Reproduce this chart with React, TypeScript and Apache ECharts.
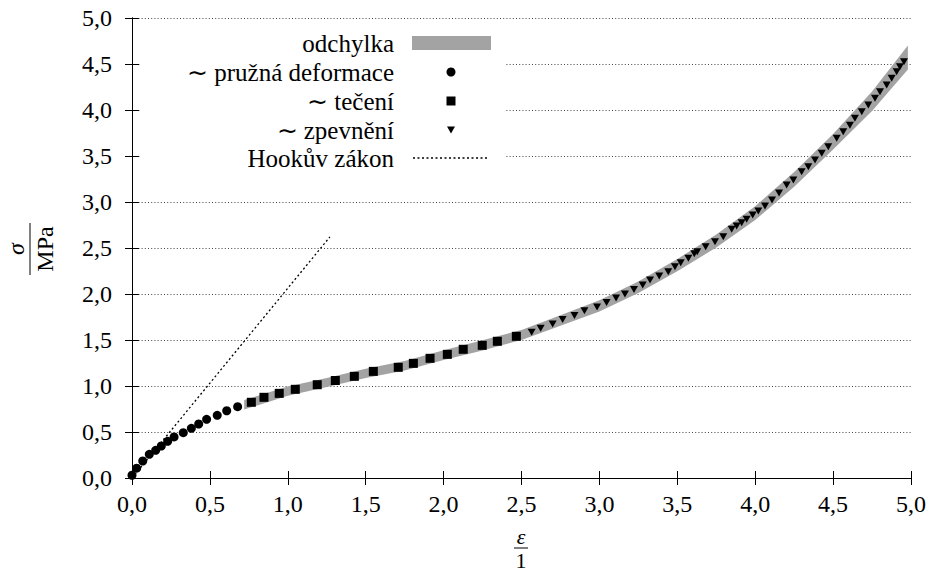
import React, { useEffect, useRef } from "react";
import * as echarts from "echarts";

// ---- data ----
const circleX = [0.0, 0.03, 0.069, 0.111, 0.152, 0.188, 0.229, 0.27, 0.329, 0.381, 0.428, 0.479, 0.547, 0.608, 0.678];
const circleY = [0.03, 0.107, 0.185, 0.257, 0.301, 0.348, 0.399, 0.446, 0.493, 0.54, 0.587, 0.638, 0.681, 0.731, 0.775];

const squareX = [0.766, 0.847, 0.945, 1.048, 1.189, 1.305, 1.427, 1.549, 1.709, 1.806, 1.913, 2.024, 2.126, 2.248, 2.345, 2.467];
const squareY = [0.823, 0.877, 0.92, 0.964, 1.014, 1.06, 1.105, 1.159, 1.203, 1.246, 1.301, 1.344, 1.399, 1.442, 1.486, 1.54];

const triX = [
  2.565, 2.623, 2.7, 2.764, 2.84, 2.904, 2.985, 3.046, 3.107, 3.164, 3.222, 3.278, 3.325, 3.384, 3.442, 3.485,
  3.522, 3.571, 3.609, 3.628, 3.682, 3.742, 3.795, 3.849, 3.881, 3.913, 3.945, 3.984, 4.02, 4.063, 4.108, 4.153,
  4.202, 4.245, 4.298, 4.341, 4.384, 4.427, 4.469, 4.523, 4.565, 4.608, 4.64, 4.684, 4.726, 4.769, 4.801, 4.844,
  4.876, 4.908, 4.929, 4.955,
];
const triY = [
  1.584, 1.627, 1.674, 1.723, 1.766, 1.818, 1.859, 1.908, 1.957, 2.0, 2.049, 2.098, 2.152, 2.196, 2.242, 2.297,
  2.34, 2.388, 2.438, 2.46, 2.514, 2.568, 2.623, 2.703, 2.739, 2.775, 2.812, 2.859, 2.903, 2.957, 3.022, 3.098,
  3.185, 3.239, 3.329, 3.384, 3.457, 3.529, 3.601, 3.692, 3.764, 3.834, 3.909, 3.981, 4.054, 4.127, 4.199, 4.272,
  4.344, 4.416, 4.471, 4.525,
];

const bandX = [0.72, 1.0, 1.25, 1.5, 1.75, 2.0, 2.25, 2.5, 2.75, 3.0, 3.25, 3.5, 3.75, 4.0, 4.25, 4.5, 4.75, 4.98];
const bandLow = [0.745, 0.893, 0.988, 1.087, 1.169, 1.282, 1.387, 1.5, 1.655, 1.81, 2.01, 2.248, 2.505, 2.803, 3.165, 3.57, 3.99, 4.44];
const bandHigh = [0.847, 0.995, 1.088, 1.187, 1.273, 1.388, 1.497, 1.61, 1.769, 1.932, 2.136, 2.38, 2.647, 2.955, 3.325, 3.738, 4.2, 4.7];

const hookeX = [0, 1.27];
const hookeY = [0, 2.62];

const legendNames = ["odchylka", "∼ pružná deformace", "∼ tečení", "∼ zpevnění", "Hookův zákon"];

const FONT = "'Liberation Serif', 'Times New Roman', serif";
const FS = 24;
const LFS = 25;

const fmt = (v: number) => v.toFixed(1).replace(".", ",");

export default function App() {
  const ref = useRef<HTMLDivElement>(null);
  useEffect(() => {
    if (!ref.current) return;
    const chart = echarts.init(ref.current, null, { renderer: "svg" });
    const pair = (xs: number[], ys: number[]) => xs.map((x, i) => [x, ys[i]]);

    const axisCommon = {
      type: "value" as const,
      min: 0,
      max: 5,
      interval: 0.5,
      axisLine: { show: true, lineStyle: { color: "#000", width: 1 } },
      axisTick: { show: true, inside: true, length: 7, lineStyle: { color: "#000", width: 1 } },
    };

    const legendRows = [43, 72, 101, 130, 158];
    const legendTextX = 394;
    const txt = (extra: any) => ({ fill: "#000", fontFamily: FONT, fontSize: LFS, ...extra });

    chart.setOption({
      animation: false,
      backgroundColor: "#fff",
      textStyle: { fontFamily: FONT },
      grid: { left: 132, right: 18, top: 18, bottom: 94, containLabel: false },
      xAxis: [
        {
          ...axisCommon,
          position: "bottom",
          axisLabel: { formatter: fmt, color: "#000", fontFamily: FONT, fontSize: FS, margin: 14 },
          splitLine: { show: false },
        },
        {
          ...axisCommon,
          position: "top",
          axisLabel: { show: false },
          splitLine: { show: false },
        },
      ],
      yAxis: [
        {
          ...axisCommon,
          position: "left",
          axisLabel: { formatter: fmt, color: "#000", fontFamily: FONT, fontSize: FS, margin: 20 },
          splitLine: { show: true, lineStyle: { color: "#444", width: 1, type: [1, 2.2] } },
        },
        {
          ...axisCommon,
          position: "right",
          axisLabel: { show: false },
          splitLine: { show: false },
        },
      ],
      series: [
        {
          name: legendNames[0],
          type: "custom",
          data: [[bandX[0], bandLow[0]]],
          renderItem: (params: any, api: any) => {
            if (params.dataIndex !== 0) return null;
            const pts: number[][] = [];
            for (let i = 0; i < bandX.length; i++) pts.push(api.coord([bandX[i], bandHigh[i]]));
            for (let i = bandX.length - 1; i >= 0; i--) pts.push(api.coord([bandX[i], bandLow[i]]));
            return {
              type: "polygon",
              shape: { points: pts },
              style: { fill: "#a3a3a3", stroke: "none" },
            };
          },
          z: 2,
        },
        {
          name: legendNames[4],
          type: "line",
          data: pair(hookeX, hookeY),
          showSymbol: false,
          lineStyle: { color: "#000", width: 1.3, type: [2, 2.5] },
          z: 3,
        },
        {
          name: legendNames[1],
          type: "scatter",
          data: pair(circleX, circleY),
          symbol: "circle",
          symbolSize: 9,
          itemStyle: { color: "#000", opacity: 1 },
          z: 4,
        },
        {
          name: legendNames[2],
          type: "scatter",
          data: pair(squareX, squareY),
          symbol: "rect",
          symbolSize: 9,
          itemStyle: { color: "#000", opacity: 1 },
          z: 4,
        },
        {
          name: legendNames[3],
          type: "scatter",
          data: pair(triX, triY),
          symbol: "triangle",
          symbolRotate: 180,
          symbolSize: [8, 7],
          itemStyle: { color: "#000", opacity: 1 },
          z: 4,
        },
      ],
      graphic: [
        { type: "rect", z: 1, shape: { x: 140, y: 28, width: 365, height: 144 }, style: { fill: "#fff" } },
        ...legendNames.map((n, i) => ({
          type: "text",
          z: 10,
          x: legendTextX,
          y: legendRows[i],
          style: txt({ text: n, textAlign: "right", textVerticalAlign: "middle" }),
        })),
        { type: "rect", z: 10, shape: { x: 412, y: 36, width: 79, height: 14 }, style: { fill: "#a3a3a3" } },
        { type: "circle", z: 10, shape: { cx: 451, cy: legendRows[1], r: 4.5 }, style: { fill: "#000" } },
        { type: "rect", z: 10, shape: { x: 446.5, y: legendRows[2] - 4.5, width: 9, height: 9 }, style: { fill: "#000" } },
        {
          type: "polygon",
          z: 10,
          shape: { points: [[447, legendRows[3] - 3.5], [455, legendRows[3] - 3.5], [451, legendRows[3] + 3.5]] },
          style: { fill: "#000" },
        },
        {
          type: "line",
          z: 10,
          shape: { x1: 413, y1: legendRows[4], x2: 489, y2: legendRows[4] },
          style: { stroke: "#000", lineWidth: 1.3, lineDash: [2, 2.5] },
        },
        // y-axis label: sigma / MPa (rotated)
        {
          type: "group",
          x: 30,
          y: 249,
          rotation: Math.PI / 2,
          z: 10,
          children: [
            { type: "text", x: 0, y: -14, style: txt({ text: "σ", fontSize: FS, fontStyle: "italic", textAlign: "center", textVerticalAlign: "middle" }) },
            { type: "line", shape: { x1: -26, y1: 0, x2: 26, y2: 0 }, style: { stroke: "#000", lineWidth: 1 } },
            { type: "text", x: 0, y: 15, style: txt({ text: "MPa", fontSize: FS, textAlign: "center", textVerticalAlign: "middle" }) },
          ],
        },
        // x-axis label: epsilon / 1
        {
          type: "group",
          x: 521,
          y: 548,
          z: 10,
          children: [
            { type: "text", x: 0, y: -12, style: txt({ text: "ε", fontSize: 22, fontStyle: "italic", textAlign: "center", textVerticalAlign: "middle" }) },
            { type: "line", shape: { x1: -7, y1: 0, x2: 7, y2: 0 }, style: { stroke: "#000", lineWidth: 1 } },
            { type: "text", x: 0, y: 12, style: txt({ text: "1", fontSize: 22, textAlign: "center", textVerticalAlign: "middle" }) },
          ],
        },
      ],
    });
    return () => chart.dispose();
  }, []);
  return <div ref={ref} style={{ width: 929, height: 572, position: "absolute", left: 0, top: 0 }} />;
}
